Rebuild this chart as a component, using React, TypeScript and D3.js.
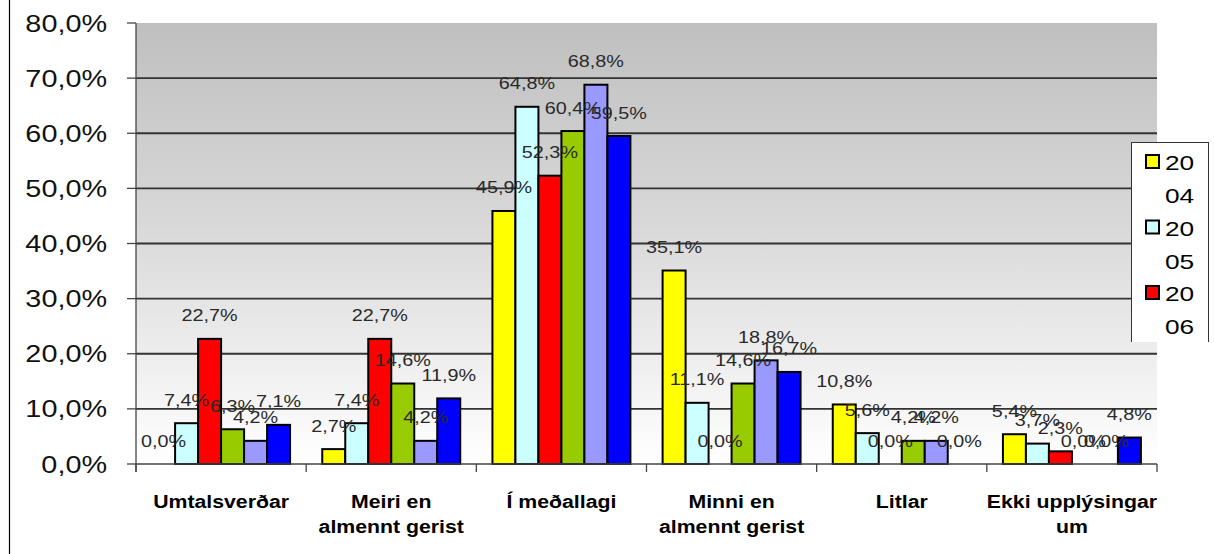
import React from "react";
import * as d3 from "d3";

const categories: string[][] = [
  ["Umtalsverðar"],
  ["Meiri en", "almennt gerist"],
  ["Í meðallagi"],
  ["Minni en", "almennt gerist"],
  ["Litlar"],
  ["Ekki upplýsingar", "um"],
];
const seriesNames = ["2004", "2005", "2006", "2007", "2008", "2009"];
const seriesColors = ["#FFFF00", "#CCFFFF", "#FF0000", "#99CC00", "#9999FF", "#0000FF"];
const s2004 = [0.0, 2.7, 45.9, 35.1, 10.8, 5.4];
const s2005 = [7.4, 7.4, 64.8, 11.1, 5.6, 3.7];
const s2006 = [22.7, 22.7, 52.3, 0.0, 0.0, 2.3];
const s2007 = [6.3, 14.6, 60.4, 14.6, 4.2, 0.0];
const s2008 = [4.2, 4.2, 68.8, 18.8, 4.2, 0.0];
const s2009 = [7.1, 11.9, 59.5, 16.7, 0.0, 4.8];
const seriesValues = [s2004, s2005, s2006, s2007, s2008, s2009];
const yTicks = [0, 10, 20, 30, 40, 50, 60, 70, 80];

const FONT = "'Liberation Sans', Arial, sans-serif";
const fmt = (v: number) => v.toFixed(1).replace(".", ",") + "%";

function SText(props: {
  x: number; y: number; sx: number; size: number; anchor?: string;
  weight?: string; fill?: string; children: React.ReactNode;
}) {
  const { x, y, sx, size, anchor = "middle", weight = "normal", fill = "#000", children } = props;
  return (
    <text
      transform={`translate(${x},${y}) scale(${sx},1)`}
      textAnchor={anchor as any}
      fontFamily={FONT}
      fontSize={size}
      fontWeight={weight}
      fill={fill}
    >
      {children}
    </text>
  );
}

export default function App() {
  const W = 1214, H = 554;
  const left = 136, right = 1157, top = 23, bottom = 464;
  const y = d3.scaleLinear().domain([0, 80]).range([bottom, top]);
  const catKeys = categories.map((c) => c.join(" "));
  const x0 = d3.scaleBand<string>().domain(catKeys).range([left, right]).paddingInner(0).paddingOuter(0);
  const x1 = d3.scaleBand<string>().domain(seriesNames).range([0, x0.bandwidth()]).paddingInner(0).paddingOuter(0.7);

  const legendX = 1131, legendTop = 142, legendClip = 342;

  return (
    <svg width={W} height={H} style={{ position: "absolute", left: 0, top: 0 }}>
      <defs>
        <linearGradient id="bg" x1="0" y1="0" x2="0" y2="1">
          <stop offset="0%" stopColor="#bfbfbf" />
          <stop offset="45%" stopColor="#d8d8d8" />
          <stop offset="100%" stopColor="#ffffff" />
        </linearGradient>
        <clipPath id="legclip">
          <rect x={legendX - 2} y={legendTop - 2} width={100} height={legendClip - legendTop + 2} />
        </clipPath>
      </defs>
      <rect x={0} y={0} width={W} height={H} fill="#fff" />
      <line x1={9.5} x2={9.5} y1={0} y2={H} stroke="#000" strokeWidth={1.2} />

      {/* plot background */}
      <rect x={left} y={top} width={right - left} height={bottom - top} fill="url(#bg)" />

      {/* gridlines */}
      {yTicks.filter((t) => t > 0 && t < 80).map((t) => (
        <line key={t} x1={left} x2={right} y1={y(t)} y2={y(t)} stroke="#333" strokeWidth={1.8} />
      ))}

      {/* y axis */}
      <line x1={left} x2={left} y1={top} y2={bottom + 8} stroke="#444" strokeWidth={1.3} />
      {yTicks.map((t) => (
        <g key={t}>
          <line x1={127} x2={left} y1={y(t)} y2={y(t)} stroke="#444" strokeWidth={1.3} />
          <SText x={107} y={y(t) + 8.5} sx={1.2} size={24} anchor="end" fill="#111">
            {fmt(t)}
          </SText>
        </g>
      ))}

      {/* bars */}
      {catKeys.map((c, ci) => (
        <g key={c} transform={`translate(${x0(c)},0)`}>
          {seriesNames.map((s, si) => {
            const v = seriesValues[si][ci];
            if (v <= 0) return null;
            return (
              <rect
                key={s}
                x={x1(s)!}
                y={y(v)}
                width={x1.bandwidth()}
                height={bottom - y(v)}
                fill={seriesColors[si]}
                stroke="#000"
                strokeWidth={2}
              />
            );
          })}
        </g>
      ))}

      {/* x axis */}
      <line x1={left} x2={right} y1={bottom} y2={bottom} stroke="#444" strokeWidth={1.5} />
      {[...catKeys.map((c) => x0(c)!), right].map((xx, i) => (
        <line key={i} x1={xx} x2={xx} y1={bottom} y2={bottom + 8} stroke="#444" strokeWidth={1.3} />
      ))}

      {/* data labels */}
      {catKeys.map((c, ci) => (
        <g key={c}>
          {seriesNames.map((s, si) => {
            const v = seriesValues[si][ci];
            const cx = x0(c)! + x1(s)! + x1.bandwidth() / 2;
            return (
              <SText key={s} x={cx} y={y(v) - 17.5} sx={1.2} size={16.5} fill="#2a2a2a">
                {fmt(v)}
              </SText>
            );
          })}
        </g>
      ))}

      {/* category labels */}
      {categories.map((lines, ci) => (
        <g key={ci}>
          {lines.map((ln, li) => (
            <SText
              key={li}
              x={x0(catKeys[ci])! + x0.bandwidth() / 2}
              y={508 + li * 25}
              sx={1.15}
              size={18.5}
              weight="bold"
              fill="#000"
            >
              {ln}
            </SText>
          ))}
        </g>
      ))}

      {/* legend */}
      <g clipPath="url(#legclip)">
        <rect x={legendX + 0.5} y={legendTop + 0.5} width={77} height={400} fill="#fff" stroke="#333" strokeWidth={1} />
        {seriesNames.map((s, si) => {
          const base = 170 + si * 65.5;
          return (
            <g key={s}>
              <rect x={1146} y={base - 15} width={13} height={13} fill={seriesColors[si]} stroke="#000" strokeWidth={2} />
              <SText x={1165} y={base} sx={1.25} size={21} anchor="start" fill="#000">
                {s.slice(0, 2)}
              </SText>
              <SText x={1165} y={base + 33} sx={1.25} size={21} anchor="start" fill="#000">
                {s.slice(2)}
              </SText>
            </g>
          );
        })}
      </g>
    </svg>
  );
}
